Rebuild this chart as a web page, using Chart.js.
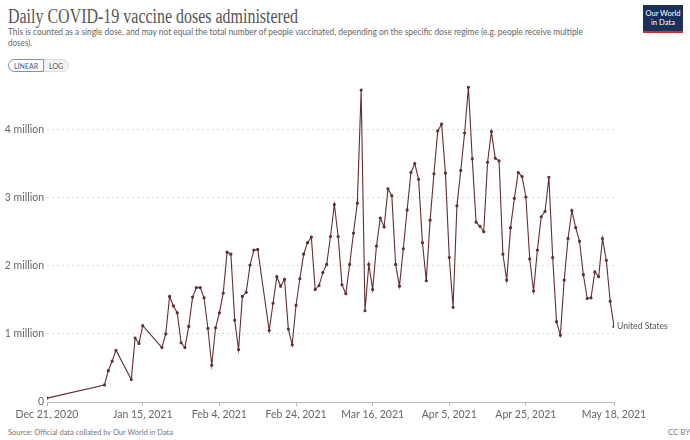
<!DOCTYPE html>
<html>
<head>
<meta charset="utf-8">
<script src="https://cdn.jsdelivr.net/npm/chart.js@4.4.0/dist/chart.umd.min.js"></script>
<style>
  body { margin: 0; width: 690px; height: 440px; background: #fff; font-family: Lato, sans-serif; overflow: hidden; }
  .abs { position: absolute; white-space: nowrap; transform-origin: left top; }
  #title { left: 8px; top: 5px; font-family: "Liberation Serif", serif; font-size: 20px; color: #555; }
  .sub { left: 8px; font-size: 9.8px; color: #666; }
  #btns { left: 8px; top: 59px; height: 13px; display: flex; font-size: 7px; color: #555; }
  #btns span { display: inline-block; padding: 2px 5px; line-height: 9px; }
  #lin { border: 1px solid #7a8fb8; border-radius: 7px 0 0 7px; color: #3d5a91; background: #fff; }
  #log { border: 1px solid #ddd; border-left: none; border-radius: 0 7px 7px 0; background: #f2f2f2; }
  #logo { left: 643px; top: 5px; width: 40px; height: 28px; background: #1a2f5a; border-bottom: 2px solid #c8352b;
          color: #fff; font-size: 7.6px; line-height: 9px; text-align: center; padding-top: 4px; box-sizing: border-box; }
  #wrap { position: absolute; left: 0; top: 76px; width: 690px; height: 350px; }
  #source { left: 8px; top: 427px; font-size: 7.8px; color: #777; }
  #cc { left: 668px; top: 427px; font-size: 7.8px; color: #777; }
</style>
</head>
<body>
<div id="title" class="abs" data-w="290">Daily COVID-19 vaccine doses administered</div>
<div class="abs sub" style="top:25px" data-w="575">This is counted as a single dose, and may not equal the total number of people vaccinated, depending on the specific dose regime (e.g. people receive multiple</div>
<div class="abs sub" style="top:36px" data-w="24">doses).</div>
<div id="btns" class="abs"><span id="lin">LINEAR</span><span id="log">LOG</span></div>
<div id="logo" class="abs">Our World<br>in Data</div>
<div id="wrap"><canvas id="chart"></canvas></div>
<div id="source" class="abs" data-w="165">Source: Official data collated by Our World in Data</div>
<div id="cc" class="abs">CC BY</div>

<script>
// days since Dec 21, 2020
var days = [0, 15, 16, 17, 18, 22, 23, 24, 25,
    30, 31, 32, 33, 34, 35, 36, 37, 38, 39, 40, 41, 42, 43, 44, 45, 46, 47, 48, 49, 50, 51, 52, 53, 54, 55,
    58, 59, 60, 61, 62, 63, 64, 65, 66, 67, 68, 69, 70, 71, 72, 73, 74, 75, 76, 77,
    78, 79, 80, 81, 82, 83, 84, 85, 86, 87, 88, 89, 90, 91, 92, 93, 94, 95, 96, 97,
    98, 99, 100, 101, 102, 103, 104, 105, 106, 107, 108, 109, 110, 111, 112, 113, 114, 115, 116, 117,
    118, 119, 120, 121, 122, 123, 124, 125, 126, 127, 128, 129, 130, 131, 132, 133, 134, 135, 136, 137,
    138, 139, 140, 141, 142, 143, 144, 145, 146, 147, 148];

// daily doses, millions
var doses = [0.057, 0.25, 0.46, 0.6, 0.76, 0.33, 0.94, 0.86, 1.12,
    0.8, 1.0, 1.55, 1.41, 1.31, 0.87, 0.80, 1.11, 1.54, 1.68, 1.68, 1.53, 1.08, 0.54, 1.09, 1.31, 1.6, 2.2, 2.17, 1.2, 0.77, 1.55, 1.61, 2.01, 2.23, 2.24,
    1.05, 1.45, 1.84, 1.7, 1.8, 1.07, 0.84, 1.42, 1.81, 2.17, 2.34, 2.42, 1.65, 1.71, 1.9, 2.02, 2.43, 2.9, 2.43, 1.72,
    1.59, 2.02, 2.48, 2.92, 4.58, 1.34, 2.02, 1.65, 2.29, 2.7, 2.57, 3.13, 3.03, 2.02, 1.70, 2.25, 2.82, 3.37, 3.5, 3.27,
    2.34, 1.78, 2.67, 3.35, 3.98, 4.08, 3.36, 2.12, 1.39, 2.88, 3.4, 3.95, 4.62, 3.57, 2.64, 2.58, 2.5, 3.52, 3.97, 3.58,
    3.54, 2.17, 1.79, 2.56, 2.99, 3.37, 3.31, 3.01, 2.10, 1.63, 2.23, 2.72, 2.8, 3.3, 2.12, 1.18, 0.98, 1.79, 2.4, 2.81,
    2.56, 2.36, 1.87, 1.52, 1.53, 1.91, 1.84, 2.4, 2.08, 1.48, 1.11];

var xTicks = [0, 25, 45, 65, 85, 105, 125, 148];
var yTicks = [0, 1, 2, 3, 4];
var entity = 'United States';

var months = ['Jan', 'Feb', 'Mar', 'Apr', 'May', 'Jun', 'Jul', 'Aug', 'Sep', 'Oct', 'Nov', 'Dec'];
function dayLabel(d) {
    var dt = new Date(2020, 11, 21 + d);
    return months[dt.getMonth()] + ' ' + dt.getDate() + ', ' + dt.getFullYear();
}

var lineColor = '#622f31';

// label at end of the line
var endLabel = {
    id: 'endLabel',
    afterDatasetsDraw: function (chart) {
        var meta = chart.getDatasetMeta(0);
        var last = meta.data[meta.data.length - 1];
        var ctx = chart.ctx;
        ctx.save();
        ctx.font = '8.6px Lato';
        ctx.fillStyle = '#555';
        ctx.textBaseline = 'middle';
        ctx.fillText(entity, last.x + 3, last.y);
        ctx.restore();
    }
};

new Chart(document.getElementById('chart'), {
    type: 'line',
    data: {
        datasets: [{
            label: entity,
            data: days.map(function (d, i) { return { x: d, y: doses[i] * 1e6 }; }),
            borderColor: lineColor,
            backgroundColor: lineColor,
            borderWidth: 1.1,
            pointRadius: 1.05,
            pointHoverRadius: 2,
            tension: 0
        }]
    },
    options: {
        responsive: true,
        maintainAspectRatio: false,
        animation: false,
        layout: { padding: { top: 6, right: 76, left: 0, bottom: 0 } },
        plugins: { legend: { display: false }, tooltip: { enabled: false } },
        scales: {
            x: {
                type: 'linear',
                min: 0,
                max: 148,
                afterBuildTicks: function (axis) {
                    axis.ticks = xTicks.map(function (v) { return { value: v }; });
                },
                afterFit: function (axis) { axis.height = 24; },
                ticks: {
                    autoSkip: false,
                    maxRotation: 0,
                    padding: 2,
                    color: '#666',
                    font: { family: 'Lato', size: 10.5 },
                    callback: function (v) { return dayLabel(v); }
                },
                grid: { drawOnChartArea: false, drawTicks: true, tickLength: 4, color: '#bbb' },
                border: { display: true, color: '#bbb' }
            },
            y: {
                min: 0,
                max: 4.65e6,
                afterBuildTicks: function (axis) {
                    axis.ticks = yTicks.map(function (v) { return { value: v * 1e6 }; });
                },
                afterFit: function (axis) { axis.width = 47; },
                ticks: {
                    padding: 3,
                    color: '#666',
                    font: { family: 'Lato', size: 10.5 },
                    callback: function (v) { return v === 0 ? '0' : (v / 1e6) + ' million'; }
                },
                grid: { drawTicks: false, color: '#d8d8d8', lineWidth: 1 },
                border: { display: false, dash: [2, 3] }
            }
        }
    },
    plugins: [endLabel]
});

// squeeze header text to the reference widths
document.querySelectorAll('[data-w]').forEach(function (el) {
    var w = el.getBoundingClientRect().width;
    var target = +el.getAttribute('data-w');
    el.style.transform = 'scaleX(' + (target / w) + ')';
});
</script>
</body>
</html>
